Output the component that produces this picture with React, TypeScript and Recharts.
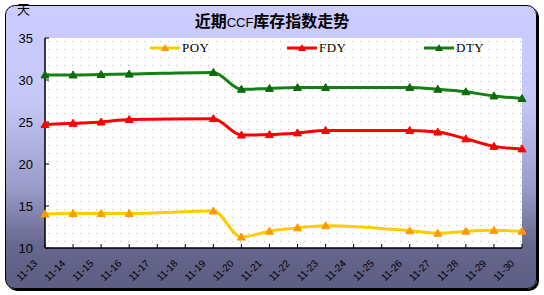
import React from 'react';
import { LineChart, Line, XAxis, YAxis, CartesianGrid } from 'recharts';

const categories = ['11-13', '11-14', '11-15', '11-16', '11-17', '11-18', '11-19', '11-20', '11-21', '11-22', '11-23', '11-24', '11-25', '11-26', '11-27', '11-28', '11-29', '11-30'];
const poy = [14.05, 14.1, 14.1, 14.1, null, null, 14.4, 11.3, 12.0, 12.4, 12.65, null, null, 12.05, 11.75, 12.0, 12.1, 12.0];
const fdy = [24.7, 24.85, 25.0, 25.3, null, null, 25.4, 23.45, 23.5, 23.7, 24.0, null, null, 24.0, 23.8, 23.0, 22.1, 21.8];
const dty = [30.6, 30.6, 30.65, 30.7, null, null, 30.9, 28.9, 29.0, 29.1, 29.1, null, null, 29.1, 28.9, 28.6, 28.1, 27.8];
const yTicks = [10, 15, 20, 25, 30, 35];

const seriesInfo = [
  { key: 'POY', line: '#ffcc00', marker: '#ff9900' },
  { key: 'FDY', line: '#ff0000', marker: '#ff0000' },
  { key: 'DTY', line: '#158015', marker: '#0b6b0b' },
];

const data = categories.map((c, i) => ({ cat: c, POY: poy[i], FDY: fdy[i], DTY: dty[i] }));

const tri = (color: string) => (props: any) => {
  const { cx, cy, index } = props;
  if (cx == null || cy == null || props.value == null) return <g key={`e${index}`} />;
  return (
    <polygon
      key={`t${index}`}
      points={`${cx - 4},${cy + 3} ${cx + 4},${cy + 3} ${cx},${cy - 4}`}
      fill={color}
      stroke={color}
      strokeWidth={1}
    />
  );
};

const XTick = (props: any) => {
  const { x, y, payload } = props;
  return (
    <text
      x={x - 7}
      y={y}
      transform={`rotate(-45, ${x - 7}, ${y})`}
      textAnchor="end"
      fontSize={10}
      fontFamily="Liberation Sans, Arial, sans-serif"
      fill="#000"
    >
      {payload.value}
    </text>
  );
};

const LegendBox = () => (
  <div style={{ position: 'absolute', left: 150, top: 41, display: 'flex', alignItems: 'center' }}>
    {seriesInfo.map((s) => (
      <div key={s.key} style={{ width: 137, display: 'flex', alignItems: 'center' }}>
        <svg width={30} height={10} style={{ display: 'block' }}>
          <line x1={0} y1={5} x2={30} y2={5} stroke={s.line} strokeWidth={3} />
          <polygon points="11,8 19,8 15,1" fill={s.marker} />
        </svg>
        <span style={{ fontFamily: 'Liberation Serif, serif', fontSize: 13, marginLeft: 2, color: '#000', letterSpacing: 0.5, lineHeight: '14px' }}>
          {s.key}
        </span>
      </div>
    ))}
  </div>
);

export default function App() {
  return (
    <div style={{ position: 'absolute', left: 0, top: 0, width: 544, height: 295, overflow: 'hidden', background: '#fff' }}>
      <svg width={0} height={0} style={{ position: 'absolute' }}>
        <defs>
          <pattern id="dotpat" x={45} y={38} width={8} height={8} patternUnits="userSpaceOnUse">
            <rect x={0} y={0} width={8} height={8} fill="#ffffff" />
            <rect x={3} y={3} width={1} height={1} fill="#b4b4b4" />
          </pattern>
        </defs>
      </svg>
      <div
        style={{
          position: 'absolute',
          left: 5,
          top: 5,
          width: 530,
          height: 282,
          border: '1px solid #000',
          borderRadius: 10,
          boxShadow: '2px 2px 0 #000',
          background: 'linear-gradient(to bottom, #ccccff 0%, #c6c6f6 35%, #9a9ac8 65%, #66668e 85%, #5e5e84 100%)',
        }}
      />
      <div
        style={{
          position: 'absolute',
          left: 0,
          top: 11,
          width: 544,
          textAlign: 'center',
          fontFamily: 'Noto Sans CJK SC, sans-serif',
          fontSize: 16,
          fontWeight: 'bold',
          lineHeight: '18px',
          color: '#000',
        }}
      >
        近期<span style={{ fontWeight: 'normal', fontFamily: 'Liberation Sans, sans-serif', fontSize: 13 }}>CCF</span>库存指数走势
      </div>
      <div
        style={{
          position: 'absolute',
          left: 17,
          top: 1,
          fontFamily: 'Noto Sans CJK SC, sans-serif',
          fontSize: 13,
          lineHeight: '15px',
          color: '#000',
        }}
      >
        天
      </div>
      <div style={{ position: 'absolute', left: 0, top: 0 }}>
        <LineChart width={544} height={295} data={data} margin={{ top: 38, right: 22, left: 0, bottom: 0 }}>
          <CartesianGrid horizontal={false} vertical={false} fill="url(#dotpat)" fillOpacity={1} />
          <XAxis
            dataKey="cat"
            interval={0}
            height={47}
            tick={<XTick />}
            tickSize={-4}
            tickMargin={20}
            axisLine={{ stroke: '#000', strokeWidth: 1.5 }}
            tickLine={{ stroke: '#000' }}
          />
          <YAxis
            domain={[10, 35]}
            ticks={yTicks}
            width={45}
            tickSize={-4}
            tickMargin={16}
            axisLine={{ stroke: '#000', strokeWidth: 1.5 }}
            tickLine={{ stroke: '#000' }}
            tick={{ fill: '#000', fontSize: 13, fontFamily: 'Liberation Sans, Arial, sans-serif' }}
          />
          {seriesInfo.map((s) => (
            <Line
              key={s.key}
              type="monotone"
              dataKey={s.key}
              stroke={s.line}
              strokeWidth={3}
              connectNulls
              dot={tri(s.marker)}
              activeDot={false}
              isAnimationActive={false}
            />
          ))}
        </LineChart>
      </div>
      <LegendBox />
    </div>
  );
}
